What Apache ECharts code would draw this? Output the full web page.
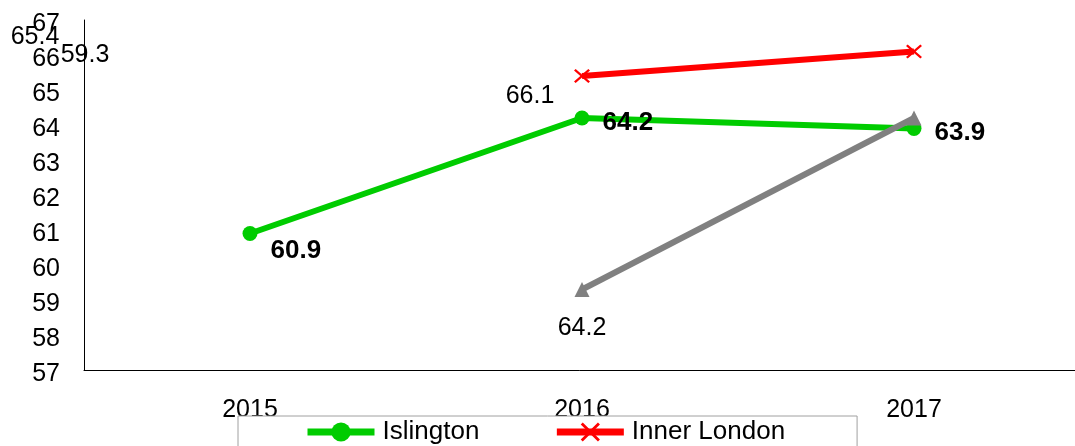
<!DOCTYPE html>
<html>
<head>
<meta charset="utf-8">
<script src="https://cdn.jsdelivr.net/npm/echarts@6/dist/echarts.min.js"></script>
<style>
html,body{margin:0;padding:0;background:#fff;}
#c{width:1075px;height:446px;}
</style>
</head>
<body>
<div id="c"></div>
<script>
var categories = ['2015', '2016', '2017'];
var islington = [60.9, 64.2, 63.9];
var innerLondon = [null, 65.4, 66.1];
var grey = [null, 59.3, 64.2];
var yTicks = {min: 57, max: 67, interval: 1};

// label placements (style only, not data)
var islingtonLabelOffset = [[0, 17], [0, 5], [0, 4]];
var innerLabelOffset = [null, [-547, -39], [-384, 45]];
var greyLabelOffset = [null, [-497, -234], [-332, 210]];

var FONT = '"Liberation Sans", Arial, sans-serif';

function build(values, offsets) {
  return values.map(function (v, i) {
    if (v === null) return '-';
    var item = {value: v};
    if (offsets[i]) item.label = {offset: offsets[i]};
    return item;
  });
}

var xPath = 'path://M0,2.5L2.5,0L12,9.5L21.5,0L24,2.5L14.5,12L24,21.5L21.5,24L12,14.5L2.5,24L0,21.5L9.5,12Z';

var chart = echarts.init(document.getElementById('c'), null, {renderer: 'canvas'});
chart.setOption({
  animation: false,
  backgroundColor: '#fff',
  textStyle: {fontFamily: FONT},
  grid: {left: 84, top: 20, right: -5, bottom: 76, containLabel: false, outerBoundsMode: 'none'},
  xAxis: {
    type: 'category',
    data: categories,
    boundaryGap: true,
    axisLine: {show: true, lineStyle: {color: '#000', width: 1}},
    axisTick: {show: false},
    splitLine: {show: false},
    axisLabel: {color: '#000', fontSize: 25, fontFamily: FONT, margin: 28}
  },
  yAxis: {
    type: 'value',
    min: yTicks.min,
    max: yTicks.max,
    interval: yTicks.interval,
    axisLine: {show: true, lineStyle: {color: '#000', width: 1}},
    axisTick: {show: false},
    splitLine: {show: false},
    axisLabel: {
      color: '#000', fontSize: 25, fontFamily: FONT, margin: 24,
      formatter: '{v|{value}}',
      rich: {v: {color: '#000', fontSize: 25, fontFamily: FONT, padding: [8, 0, 0, 0]}}
    }
  },
  legend: {
    data: ['Islington', 'Inner London'],
    left: 238,
    top: 416,
    orient: 'horizontal',
    itemWidth: 67,
    itemHeight: 24,
    itemGap: 74,
    padding: [3, 72, 40, 66],
    backgroundColor: '#fff',
    borderColor: '#a0a0a0',
    borderWidth: 1,
    borderRadius: 0,
    lineStyle: {width: 7},
    textStyle: {color: '#000', fontSize: 26, fontFamily: FONT, padding: [0, 0, 0, 3]}
  },
  series: [
    {
      name: 'Islington',
      type: 'line',
      data: build(islington, islingtonLabelOffset),
      symbol: 'circle',
      symbolSize: 15,
      lineStyle: {color: '#00CC00', width: 6},
      itemStyle: {color: '#00CC00'},
      label: {show: true, position: 'right', distance: 13, color: '#000', fontSize: 26, fontWeight: 'bold', fontFamily: FONT},
      z: 3
    },
    {
      name: 'Inner London',
      type: 'line',
      data: build(innerLondon, innerLabelOffset),
      symbol: xPath,
      symbolSize: [16, 14],
      lineStyle: {color: '#FF0000', width: 6},
      itemStyle: {color: '#FF0000'},
      label: {show: true, position: 'inside', color: '#000', fontSize: 25, fontFamily: FONT},
      z: 2
    },
    {
      name: 'England',
      type: 'line',
      data: build(grey, greyLabelOffset),
      symbol: 'triangle',
      symbolSize: 15,
      lineStyle: {color: '#808080', width: 6},
      itemStyle: {color: '#808080'},
      label: {show: true, position: 'inside', color: '#000', fontSize: 25, fontFamily: FONT},
      z: 4
    }
  ]
});
</script>
</body>
</html>
